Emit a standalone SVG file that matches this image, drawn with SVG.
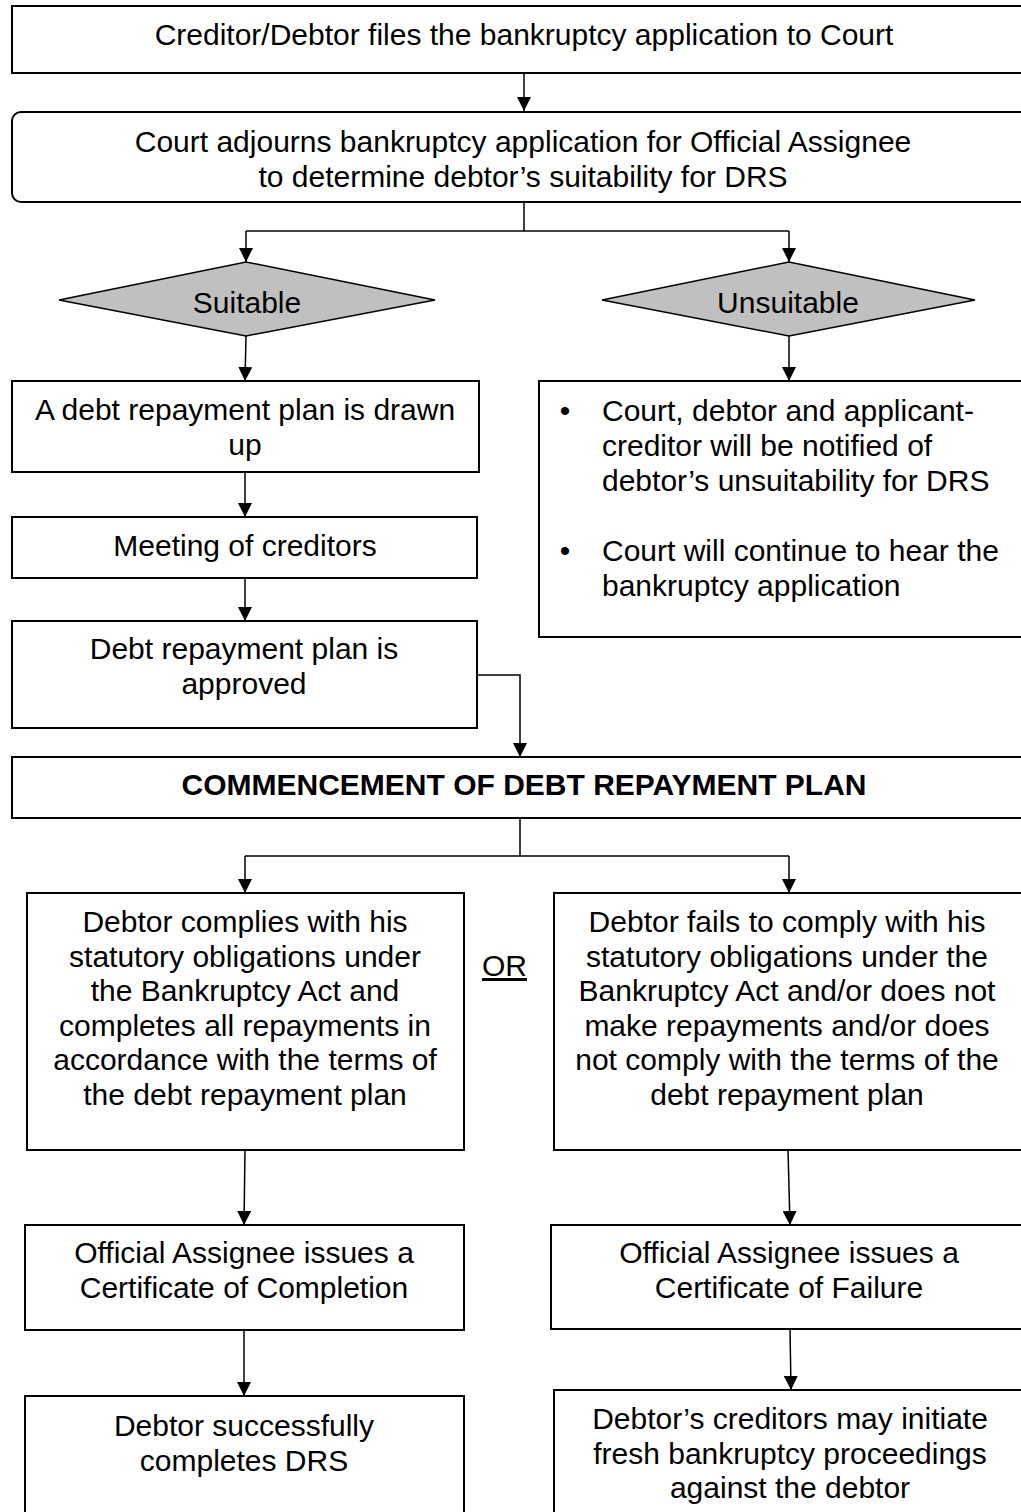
<svg xmlns="http://www.w3.org/2000/svg" width="1021" height="1512" viewBox="0 0 1021 1512">
<style>
.box{fill:#fff;stroke:#000;stroke-width:2}
.dia{fill:#c0c0c0;stroke:#000;stroke-width:1.5}
.c{fill:none;stroke:#000;stroke-width:1.5}
text{font-family:"Liberation Sans",Arial,sans-serif;font-size:30px;fill:#000}
.m{text-anchor:middle}
.b{font-weight:bold}
</style>
<defs>
<marker id="ah" viewBox="0 0 14 14" refX="14" refY="7" markerWidth="14" markerHeight="14" markerUnits="userSpaceOnUse" orient="auto">
<path d="M0,0 L14,7 L0,14 z" fill="#000"/>
</marker>
</defs>
<rect width="1021" height="1512" fill="#fff"/>
<g id="connectors">
<line class="c" x1="524" y1="73" x2="524" y2="111" marker-end="url(#ah)"/>
<polyline class="c" points="524,202 524,231"/>
<polyline class="c" points="246,231 789,231"/>
<line class="c" x1="246" y1="231" x2="246" y2="262" marker-end="url(#ah)"/>
<line class="c" x1="789" y1="231" x2="789" y2="262" marker-end="url(#ah)"/>
<line class="c" x1="246" y1="336" x2="245" y2="381" marker-end="url(#ah)"/>
<line class="c" x1="789" y1="336" x2="789" y2="381" marker-end="url(#ah)"/>
<line class="c" x1="245" y1="472" x2="245" y2="517" marker-end="url(#ah)"/>
<line class="c" x1="245" y1="578" x2="245" y2="621" marker-end="url(#ah)"/>
<polyline class="c" points="477,675 520,675 520,757" marker-end="url(#ah)"/>
<polyline class="c" points="520,818 520,856"/>
<polyline class="c" points="245,856 789,856"/>
<line class="c" x1="245" y1="856" x2="245" y2="893" marker-end="url(#ah)"/>
<line class="c" x1="789" y1="856" x2="789" y2="893" marker-end="url(#ah)"/>
<line class="c" x1="245" y1="1150" x2="244" y2="1225" marker-end="url(#ah)"/>
<line class="c" x1="788" y1="1150" x2="790" y2="1225" marker-end="url(#ah)"/>
<line class="c" x1="244" y1="1330" x2="244" y2="1396" marker-end="url(#ah)"/>
<line class="c" x1="790" y1="1329" x2="791" y2="1390" marker-end="url(#ah)"/>
</g>
<g id="n1">
<rect class="box" x="12" y="6" width="1012" height="67"/>
<text class="m" x="524" y="45">Creditor/Debtor files the bankruptcy application to Court</text>
</g>
<g id="n2">
<rect class="box" x="12" y="112" width="1020" height="90" rx="9"/>
<text class="m" x="523" y="152">Court adjourns bankruptcy application for Official Assignee</text>
<text class="m" x="523" y="187">to determine debtor’s suitability for DRS</text>
</g>
<g id="n3">
<polygon class="dia" points="59,300 246,262 435,300 246,336"/>
<text class="m" x="247" y="313">Suitable</text>
</g>
<g id="n4">
<polygon class="dia" points="602,300 789,262 975,300 789,336"/>
<text class="m" x="788" y="313">Unsuitable</text>
</g>
<g id="n5">
<rect class="box" x="12" y="381" width="467" height="91"/>
<text class="m" x="245" y="420">A debt repayment plan is drawn</text>
<text class="m" x="245" y="455">up</text>
</g>
<g id="n6">
<rect class="box" x="539" y="381" width="490" height="256"/>
<text class="m" x="565" y="421">•</text>
<text x="602" y="421">Court, debtor and applicant-</text>
<text x="602" y="456">creditor will be notified of</text>
<text x="602" y="491">debtor’s unsuitability for DRS</text>
<text class="m" x="565" y="561">•</text>
<text x="602" y="561">Court will continue to hear the</text>
<text x="602" y="596">bankruptcy application</text>
</g>
<g id="n7">
<rect class="box" x="12" y="517" width="465" height="61"/>
<text class="m" x="245" y="556">Meeting of creditors</text>
</g>
<g id="n8">
<rect class="box" x="12" y="621" width="465" height="107"/>
<text class="m" x="244" y="659">Debt repayment plan is</text>
<text class="m" x="244" y="694">approved</text>
</g>
<g id="n9">
<rect class="box" x="12" y="757" width="1012" height="61"/>
<text class="m b" x="524" y="795">COMMENCEMENT OF DEBT REPAYMENT PLAN</text>
</g>
<g id="n10">
<rect class="box" x="27" y="893" width="437" height="257"/>
<text class="m" x="245" y="932">Debtor complies with his</text>
<text class="m" x="245" y="966.6">statutory obligations under</text>
<text class="m" x="245" y="1001.2">the Bankruptcy Act and</text>
<text class="m" x="245" y="1035.8">completes all repayments in</text>
<text class="m" x="245" y="1070.4">accordance with the terms of</text>
<text class="m" x="245" y="1105">the debt repayment plan</text>
</g>
<g id="or">
<text x="482" y="976" text-decoration="underline">OR</text>
</g>
<g id="n11">
<rect class="box" x="554" y="893" width="475" height="257"/>
<text class="m" x="787" y="932">Debtor fails to comply with his</text>
<text class="m" x="787" y="966.6">statutory obligations under the</text>
<text class="m" x="787" y="1001.2">Bankruptcy Act and/or does not</text>
<text class="m" x="787" y="1035.8">make repayments and/or does</text>
<text class="m" x="787" y="1070.4">not comply with the terms of the</text>
<text class="m" x="787" y="1105">debt repayment plan</text>
</g>
<g id="n12">
<rect class="box" x="25" y="1225" width="439" height="105"/>
<text class="m" x="244" y="1263">Official Assignee issues a</text>
<text class="m" x="244" y="1298">Certificate of Completion</text>
</g>
<g id="n13">
<rect class="box" x="551" y="1225" width="478" height="104"/>
<text class="m" x="789" y="1263">Official Assignee issues a</text>
<text class="m" x="789" y="1298">Certificate of Failure</text>
</g>
<g id="n14">
<rect class="box" x="25" y="1396" width="439" height="130"/>
<text class="m" x="244" y="1436">Debtor successfully</text>
<text class="m" x="244" y="1471">completes DRS</text>
</g>
<g id="n15">
<rect class="box" x="554" y="1390" width="475" height="136"/>
<text class="m" x="790" y="1429">Debtor’s creditors may initiate</text>
<text class="m" x="790" y="1464">fresh bankruptcy proceedings</text>
<text class="m" x="790" y="1498">against the debtor</text>
</g>
</svg>
